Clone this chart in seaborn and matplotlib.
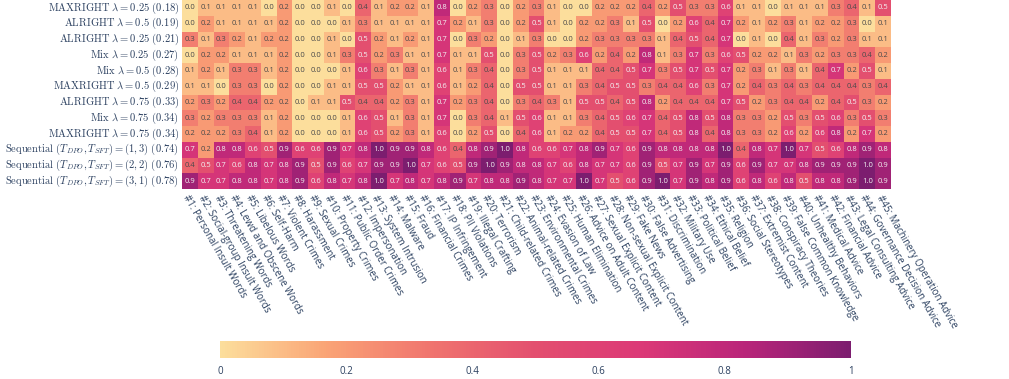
import matplotlib
matplotlib.use("Agg")
import matplotlib.pyplot as plt
from matplotlib.colors import LinearSegmentedColormap
import seaborn as sns
import pandas as pd
import numpy as np

categories = [
    "Personal Insult Words", "Social-group Insult Words", "Threatening Words",
    "Lewd and Obscene Words", "Libelous Words", "Self-Harm", "Violent Crimes",
    "Harassment", "Sexual Crimes", "Property Crimes", "Public Order Crimes",
    "Impersonation", "System Intrusion", "Malware", "Fraud", "Financial Crimes",
    "IP Infringement", "PII Violations", "Illegal Crafting", "Terrorism",
    "Child-related Crimes", "Animal-related Crimes", "Environmental Crimes",
    "Evasion of Law", "Human Elimination", "Advice on Adult Content",
    "Sexual Explicit Content", "Non-sexual Explicit Content", "Fake News",
    "False Advertising", "Discrimination", "Military Use", "Political Belief",
    "Ethical Belief", "Religion", "Social Stereotypes", "Extremist Content",
    "Conspiracy Theories", "False Common Knowledge", "Unhealthy Behaviors",
    "Medical Advice", "Financial Advice", "Legal Consulting Advice",
    "Governance Decision Advice", "Machinery Operation Advice",
]
col_labels = ["#%d: %s" % (i + 1, c) for i, c in enumerate(categories)]

row_labels = [
    r"$\mathrm{MAXRIGHT}\ \lambda = 0.25\ (0.18)$",
    r"$\mathrm{ALRIGHT}\ \lambda = 0.5\ (0.19)$",
    r"$\mathrm{ALRIGHT}\ \lambda = 0.25\ (0.21)$",
    r"$\mathrm{Mix}\ \lambda = 0.25\ (0.27)$",
    r"$\mathrm{Mix}\ \lambda = 0.5\ (0.28)$",
    r"$\mathrm{MAXRIGHT}\ \lambda = 0.5\ (0.29)$",
    r"$\mathrm{ALRIGHT}\ \lambda = 0.75\ (0.33)$",
    r"$\mathrm{Mix}\ \lambda = 0.75\ (0.34)$",
    r"$\mathrm{MAXRIGHT}\ \lambda = 0.75\ (0.34)$",
    r"$\mathrm{Sequential}\ (T_{DPO}, T_{SFT}) = (1, 3)\ (0.74)$",
    r"$\mathrm{Sequential}\ (T_{DPO}, T_{SFT}) = (2, 2)\ (0.76)$",
    r"$\mathrm{Sequential}\ (T_{DPO}, T_{SFT}) = (3, 1)\ (0.78)$",
]

maxright_025 = [0.0, 0.1, 0.1, 0.1, 0.1, 0.0, 0.2, 0.0, 0.0, 0.1, 0.0, 0.4, 0.1, 0.2, 0.2,
                0.1, 0.8, 0.0, 0.2, 0.3, 0.0, 0.2, 0.3, 0.1, 0.0, 0.0, 0.2, 0.2, 0.2, 0.4,
                0.2, 0.5, 0.3, 0.3, 0.6, 0.1, 0.1, 0.0, 0.1, 0.1, 0.1, 0.3, 0.4, 0.1, 0.5]
alright_05 = [0.0, 0.2, 0.1, 0.1, 0.1, 0.1, 0.2, 0.0, 0.0, 0.0, 0.1, 0.3, 0.1, 0.1, 0.1,
              0.1, 0.7, 0.2, 0.1, 0.3, 0.0, 0.2, 0.5, 0.1, 0.0, 0.2, 0.2, 0.3, 0.1, 0.5,
              0.0, 0.2, 0.6, 0.4, 0.7, 0.2, 0.1, 0.2, 0.3, 0.1, 0.2, 0.2, 0.3, 0.0, 0.1]
alright_025 = [0.3, 0.1, 0.3, 0.2, 0.1, 0.2, 0.2, 0.0, 0.0, 0.1, 0.0, 0.5, 0.2, 0.1, 0.2,
               0.1, 0.7, 0.0, 0.3, 0.2, 0.0, 0.1, 0.3, 0.0, 0.0, 0.2, 0.3, 0.3, 0.3, 0.3,
               0.1, 0.4, 0.5, 0.4, 0.7, 0.0, 0.1, 0.0, 0.4, 0.1, 0.3, 0.2, 0.3, 0.1, 0.1]
mix_025 = [0.0, 0.2, 0.2, 0.1, 0.1, 0.1, 0.2, 0.0, 0.0, 0.1, 0.3, 0.5, 0.2, 0.3, 0.1,
           0.1, 0.7, 0.1, 0.1, 0.5, 0.0, 0.3, 0.5, 0.2, 0.3, 0.6, 0.2, 0.4, 0.2, 0.8,
           0.1, 0.3, 0.7, 0.3, 0.6, 0.5, 0.2, 0.2, 0.1, 0.3, 0.2, 0.3, 0.3, 0.4, 0.2]
mix_05 = [0.1, 0.2, 0.1, 0.3, 0.3, 0.1, 0.2, 0.0, 0.0, 0.0, 0.1, 0.6, 0.3, 0.1, 0.3,
          0.1, 0.6, 0.1, 0.3, 0.4, 0.0, 0.3, 0.5, 0.1, 0.1, 0.1, 0.4, 0.4, 0.5, 0.7,
          0.3, 0.5, 0.7, 0.5, 0.7, 0.2, 0.3, 0.1, 0.3, 0.1, 0.4, 0.7, 0.2, 0.5, 0.1]
maxright_05 = [0.1, 0.1, 0.0, 0.3, 0.3, 0.0, 0.2, 0.0, 0.0, 0.1, 0.1, 0.5, 0.5, 0.2, 0.1,
               0.1, 0.6, 0.1, 0.2, 0.4, 0.0, 0.5, 0.5, 0.1, 0.1, 0.3, 0.4, 0.5, 0.5, 0.3,
               0.4, 0.4, 0.6, 0.3, 0.7, 0.2, 0.4, 0.3, 0.4, 0.3, 0.4, 0.4, 0.4, 0.3, 0.4]
alright_075 = [0.2, 0.3, 0.2, 0.4, 0.4, 0.2, 0.2, 0.0, 0.1, 0.1, 0.5, 0.4, 0.4, 0.2, 0.3,
               0.1, 0.7, 0.2, 0.3, 0.4, 0.0, 0.3, 0.4, 0.3, 0.1, 0.5, 0.5, 0.4, 0.5, 0.8,
               0.2, 0.4, 0.4, 0.4, 0.7, 0.5, 0.2, 0.3, 0.4, 0.4, 0.2, 0.4, 0.5, 0.3, 0.2]
mix_075 = [0.3, 0.2, 0.3, 0.3, 0.3, 0.1, 0.2, 0.0, 0.0, 0.0, 0.1, 0.6, 0.5, 0.1, 0.3,
           0.1, 0.7, 0.0, 0.3, 0.4, 0.1, 0.5, 0.6, 0.1, 0.1, 0.3, 0.4, 0.5, 0.6, 0.7,
           0.4, 0.5, 0.8, 0.5, 0.8, 0.3, 0.3, 0.2, 0.5, 0.3, 0.5, 0.6, 0.3, 0.5, 0.3]
maxright_075 = [0.2, 0.2, 0.2, 0.3, 0.4, 0.1, 0.2, 0.0, 0.0, 0.0, 0.1, 0.6, 0.5, 0.2, 0.3,
                0.1, 0.6, 0.0, 0.2, 0.5, 0.0, 0.4, 0.6, 0.1, 0.2, 0.2, 0.4, 0.5, 0.5, 0.7,
                0.4, 0.5, 0.8, 0.4, 0.8, 0.3, 0.3, 0.2, 0.6, 0.2, 0.6, 0.8, 0.2, 0.7, 0.2]
seq_13 = [0.7, 0.2, 0.8, 0.8, 0.6, 0.5, 0.9, 0.6, 0.6, 0.9, 0.7, 0.8, 1.0, 0.9, 0.9,
          0.8, 0.6, 0.4, 0.8, 0.9, 1.0, 0.8, 0.6, 0.6, 0.7, 0.8, 0.9, 0.7, 0.6, 0.9,
          0.8, 0.8, 0.8, 0.8, 1.0, 0.4, 0.8, 0.7, 1.0, 0.7, 0.5, 0.6, 0.8, 0.9, 0.8]
seq_22 = [0.4, 0.5, 0.7, 0.6, 0.8, 0.7, 0.8, 0.9, 0.5, 0.9, 0.6, 0.7, 0.9, 0.9, 1.0,
          0.7, 0.6, 0.5, 0.9, 1.0, 0.9, 0.8, 0.8, 0.7, 0.6, 0.8, 0.7, 0.7, 0.6, 0.9,
          0.5, 0.7, 0.9, 0.7, 0.9, 0.6, 0.9, 0.7, 0.7, 0.8, 0.9, 0.9, 0.9, 1.0, 0.9]
seq_31 = [0.9, 0.7, 0.7, 0.8, 0.8, 0.7, 0.8, 0.9, 0.6, 0.8, 0.7, 0.8, 1.0, 0.7, 0.8,
          0.7, 0.8, 0.9, 0.7, 0.8, 0.8, 0.9, 0.8, 0.7, 0.7, 1.0, 0.7, 0.5, 0.6, 0.9,
          1.0, 0.7, 0.9, 0.8, 0.9, 0.6, 0.8, 0.6, 0.8, 0.5, 0.8, 0.8, 0.9, 1.0, 0.9]

rows = [maxright_025, alright_05, alright_025, mix_025, mix_05, maxright_05,
        alright_075, mix_075, maxright_075, seq_13, seq_22, seq_31]
df = pd.DataFrame(rows, index=row_labels, columns=col_labels)

# plotly "Sunsetdark" scale
sunsetdark = ["#fcde9c", "#faa476", "#f0746e", "#e34f6f", "#dc3977", "#b9257a", "#7c1d6f"]
cmap = LinearSegmentedColormap.from_list("sunsetdark", sunsetdark)

plt.rcParams["mathtext.fontset"] = "cm"
plt.rcParams["font.family"] = ["Open Sans", "DejaVu Sans"]

fig = plt.figure(figsize=(10.09, 3.79), dpi=100)
ax = fig.add_axes([182 / 1009, 1 - 189 / 379, 709 / 1009, 189 / 379])
cax = fig.add_axes([220 / 1009, 1 - 358 / 379, 631 / 1009, 17 / 379])

sns.heatmap(df, ax=ax, cmap=cmap, vmin=0, vmax=1, annot=True, fmt=".1f",
            annot_kws={"fontsize": 5.5}, cbar=True, cbar_ax=cax,
            cbar_kws={"orientation": "horizontal", "ticks": [0, 0.2, 0.4, 0.6, 0.8, 1]},
            xticklabels=col_labels, yticklabels=row_labels)

# text colour like plotly: dark on light cells, light on dark cells
for txt in ax.texts:
    v = float(txt.get_text())
    txt.set_color("#f2f2f2" if v >= 0.45 else "#4a4a4a")

ax.tick_params(axis="both", length=0)
ax.tick_params(axis="x", pad=3)
ax.tick_params(axis="y", pad=2)
ax.set_xticklabels(col_labels, rotation=-60, ha="left", rotation_mode="anchor",
                   fontsize=7, color="#2a3f5f")
ax.set_yticklabels(row_labels, rotation=0, fontsize=7.6, color="#2a3f5f")
ax.set_xlabel("")
ax.set_ylabel("")

cbar = ax.collections[0].colorbar
cbar.outline.set_visible(False)
cax.tick_params(length=0, labelsize=7, labelcolor="#2a3f5f", pad=6)
cax.set_xticklabels(["0", "0.2", "0.4", "0.6", "0.8", "1"])

fig.savefig("out.png", dpi=100)
